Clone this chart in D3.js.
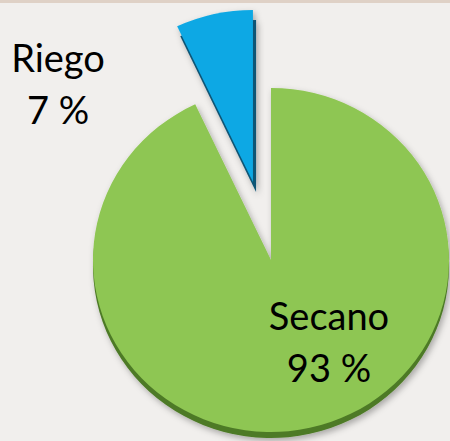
<!DOCTYPE html>
<html>
<head>
<meta charset="utf-8">
<script src="https://cdn.jsdelivr.net/npm/d3@7"></script>
<style>
  html, body { margin: 0; padding: 0; background: #f1efed; }
  svg { display: block; }
</style>
</head>
<body>
<svg id="chart"></svg>
<script>
//
// Data
//

var categories = ['Riego', 'Secano']
var values = [7, 93]
var labels = ['7 %', '93 %']

//
// Configuration
//

var width = 450
var height = 441
var center = { x: 271, y: 260 }
var radius = 172
var stretchX = 1.035
var explode = [80, 0]
var colorFront = ['#0ea8e4', '#8ec652']
var colorSide = ['#0d5474', '#4d7a27']
var depth = [{ x: 3, y: 10 }, { x: 0, y: 6 }]
var labelPos = [{ x: 58, y: 72 }, { x: 329, y: 330 }]
var lineGap = 52
var font = 'Lato, "Open Sans", sans-serif'

//
// Chart
//

var svg = d3.select('#chart').attr('width', width).attr('height', height)

svg.append('rect').attr('width', width).attr('height', height).attr('fill', '#f1efed')
svg.append('rect').attr('width', width).attr('height', 3).attr('fill', '#dfd1c6')

var defs = svg.append('defs')
defs.append('filter').attr('id', 'shadow')
  .attr('x', '-20%').attr('y', '-20%').attr('width', '140%').attr('height', '140%')
  .append('feDropShadow')
  .attr('dx', 2).attr('dy', 3).attr('stdDeviation', 3)
  .attr('flood-color', '#000').attr('flood-opacity', 0.3)

var startAngle = -2 * Math.PI * values[0] / d3.sum(values)
var pie = d3.pie().sort(null).startAngle(startAngle).endAngle(startAngle + 2 * Math.PI)
var arc = d3.arc().innerRadius(0).outerRadius(radius)
var arcs = pie(values)

var g = svg.append('g')
  .attr('transform', 'translate(' + center.x + ',' + center.y + ') scale(' + stretchX + ',1)')

var slice = g.selectAll('g.slice')
  .data(arcs)
  .join('g')
  .attr('class', 'slice')
  .attr('filter', 'url(#shadow)')
  .attr('transform', function(d, i) {
    var mid = (d.startAngle + d.endAngle) / 2
    return 'translate(' + (Math.sin(mid) * explode[i]) + ',' + (-Math.cos(mid) * explode[i]) + ')'
  })

// side (thickness)
slice.append('path')
  .attr('d', arc)
  .attr('transform', function(d, i) { return 'translate(' + depth[i].x + ',' + depth[i].y + ')' })
  .attr('fill', function(d, i) { return colorSide[i] })

// front face
slice.append('path')
  .attr('d', arc)
  .attr('fill', function(d, i) { return colorFront[i] })

//
// Labels
//

var text = svg.selectAll('text.label')
  .data(categories)
  .join('text')
  .attr('class', 'label')
  .attr('text-anchor', 'middle')
  .attr('font-family', font)
  .attr('font-size', 38)
  .attr('fill', '#000')

text.append('tspan')
  .attr('x', function(d, i) { return labelPos[i].x })
  .attr('y', function(d, i) { return labelPos[i].y })
  .text(function(d) { return d })

text.append('tspan')
  .attr('x', function(d, i) { return labelPos[i].x })
  .attr('y', function(d, i) { return labelPos[i].y + lineGap })
  .text(function(d, i) { return labels[i] })
</script>
</body>
</html>
